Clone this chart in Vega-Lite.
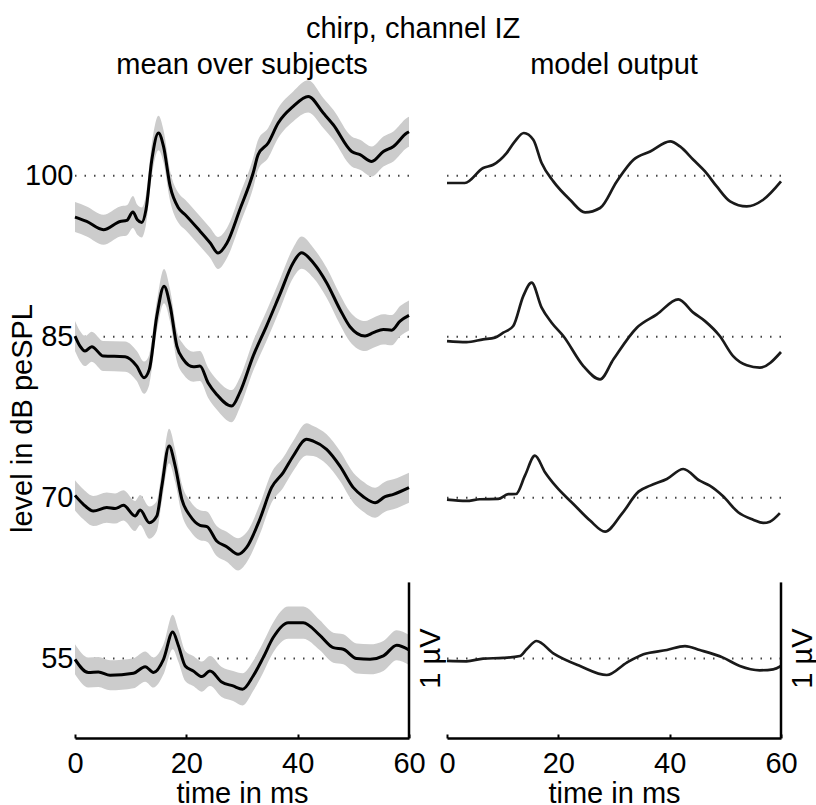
{
  "$schema": "https://vega.github.io/schema/vega-lite/v6.json",
  "background": "white",
  "padding": {"left": 8, "top": 15, "right": 0, "bottom": 0},
  "title": {"text": "chirp, channel IZ", "fontSize": 29, "fontWeight": "normal", "font": "Liberation Sans", "color": "black", "baseline": "bottom", "offset": -22, "anchor": "middle"},
  "config": {"view": {"stroke": null}, "font": "Liberation Sans", "title": {"fontSize": 29, "fontWeight": "normal", "font": "Liberation Sans", "color": "black"}},
  "spacing": 38,
  "bounds": "flush",
  "datasets": {
    "levels": [{"level": 55}, {"level": 70}, {"level": 85}, {"level": 100}],
    "bar": [{"t": 60, "y1": 47.6, "y2": 62.1}],
    "uv": [{"t": 64, "y": 55, "label": "1 µV"}],
    "mean": [
      {"level":100,"t":0,"y":96.15,"e":1.4},{"level":100,"t":2.1,"y":95.74,"e":1.4},{"level":100,"t":5.1,"y":94.97,"e":1.4},{"level":100,"t":8.1,"y":95.74,"e":1.4},{"level":100,"t":9.3,"y":95.84,"e":1.4},{"level":100,"t":10.4,"y":96.62,"e":1.5},{"level":100,"t":11.2,"y":95.9,"e":1.4},{"level":100,"t":12.0,"y":95.65,"e":1.4},{"level":100,"t":12.75,"y":96.83,"e":1.4},{"level":100,"t":13.8,"y":101.49,"e":1.5},{"level":100,"t":15.0,"y":103.98,"e":1.6},{"level":100,"t":15.9,"y":102.73,"e":1.5},{"level":100,"t":17.1,"y":99.0,"e":1.4},{"level":100,"t":18.6,"y":96.99,"e":1.4},{"level":100,"t":19.8,"y":96.37,"e":1.4},{"level":100,"t":22.5,"y":94.81,"e":1.4},{"level":100,"t":24.3,"y":93.73,"e":1.4},{"level":100,"t":25.7,"y":92.8,"e":1.5},{"level":100,"t":27.3,"y":93.73,"e":1.4},{"level":100,"t":29.6,"y":96.83,"e":1.4},{"level":100,"t":32.0,"y":100.25,"e":1.4},{"level":100,"t":32.9,"y":101.96,"e":1.4},{"level":100,"t":34.7,"y":103.05,"e":1.4},{"level":100,"t":36.5,"y":104.91,"e":1.4},{"level":100,"t":39.2,"y":106.46,"e":1.4},{"level":100,"t":41.9,"y":107.39,"e":1.5},{"level":100,"t":44.6,"y":105.84,"e":1.4},{"level":100,"t":46.4,"y":104.75,"e":1.4},{"level":100,"t":49.7,"y":102.26,"e":1.4},{"level":100,"t":51.2,"y":101.96,"e":1.4},{"level":100,"t":53.3,"y":101.33,"e":1.4},{"level":100,"t":55.4,"y":102.26,"e":1.4},{"level":100,"t":57.2,"y":102.73,"e":1.4},{"level":100,"t":59.6,"y":103.98,"e":1.4},{"level":100,"t":60,"y":104.1,"e":1.4},
      {"level":85,"t":0,"y":85.06,"e":1.4},{"level":85,"t":0.9,"y":84.12,"e":1.4},{"level":85,"t":1.8,"y":83.66,"e":1.4},{"level":85,"t":3.0,"y":84.07,"e":1.4},{"level":85,"t":5.1,"y":83.19,"e":1.4},{"level":85,"t":9.0,"y":83.14,"e":1.4},{"level":85,"t":11.1,"y":82.26,"e":1.4},{"level":85,"t":12.4,"y":81.18,"e":1.5},{"level":85,"t":13.35,"y":81.95,"e":1.4},{"level":85,"t":14.7,"y":86.92,"e":1.4},{"level":85,"t":16.0,"y":89.71,"e":1.6},{"level":85,"t":17.1,"y":87.85,"e":1.5},{"level":85,"t":18.3,"y":84.12,"e":1.4},{"level":85,"t":19.45,"y":82.89,"e":1.4},{"level":85,"t":21.25,"y":82.2,"e":1.4},{"level":85,"t":22.45,"y":82.26,"e":1.4},{"level":85,"t":23.9,"y":80.71,"e":1.4},{"level":85,"t":25.45,"y":79.62,"e":1.4},{"level":85,"t":28.15,"y":78.53,"e":1.5},{"level":85,"t":29.6,"y":79.78,"e":1.4},{"level":85,"t":32.0,"y":83.19,"e":1.4},{"level":85,"t":34.4,"y":85.99,"e":1.4},{"level":85,"t":36.8,"y":88.94,"e":1.4},{"level":85,"t":39.2,"y":91.89,"e":1.4},{"level":85,"t":40.7,"y":92.83,"e":1.5},{"level":85,"t":42.8,"y":91.89,"e":1.4},{"level":85,"t":45.2,"y":90.03,"e":1.4},{"level":85,"t":47.6,"y":87.54,"e":1.4},{"level":85,"t":49.4,"y":85.93,"e":1.4},{"level":85,"t":52.1,"y":85.06,"e":1.4},{"level":85,"t":53.6,"y":85.37,"e":1.4},{"level":85,"t":55.4,"y":85.68,"e":1.4},{"level":85,"t":56.9,"y":85.61,"e":1.4},{"level":85,"t":58.4,"y":86.45,"e":1.4},{"level":85,"t":60,"y":86.98,"e":1.4},
      {"level":70,"t":0,"y":70.21,"e":1.4},{"level":70,"t":1.5,"y":69.38,"e":1.4},{"level":70,"t":3.3,"y":68.75,"e":1.4},{"level":70,"t":5.7,"y":69.07,"e":1.4},{"level":70,"t":7.2,"y":68.98,"e":1.4},{"level":70,"t":8.7,"y":69.28,"e":1.4},{"level":70,"t":10.8,"y":68.29,"e":1.4},{"level":70,"t":11.7,"y":68.85,"e":1.4},{"level":70,"t":13.35,"y":67.67,"e":1.5},{"level":70,"t":14.7,"y":68.29,"e":1.4},{"level":70,"t":15.6,"y":71.08,"e":1.4},{"level":70,"t":16.9,"y":74.81,"e":1.6},{"level":70,"t":18.0,"y":72.94,"e":1.5},{"level":70,"t":19.2,"y":69.84,"e":1.4},{"level":70,"t":20.7,"y":68.29,"e":1.4},{"level":70,"t":22.45,"y":67.42,"e":1.4},{"level":70,"t":23.7,"y":67.3,"e":1.4},{"level":70,"t":25.45,"y":65.96,"e":1.4},{"level":70,"t":27.25,"y":65.43,"e":1.4},{"level":70,"t":29.3,"y":64.72,"e":1.5},{"level":70,"t":30.8,"y":65.34,"e":1.4},{"level":70,"t":33.2,"y":67.98,"e":1.4},{"level":70,"t":35.3,"y":70.93,"e":1.4},{"level":70,"t":37.4,"y":72.33,"e":1.4},{"level":70,"t":39.2,"y":73.88,"e":1.4},{"level":70,"t":41.6,"y":75.43,"e":1.5},{"level":70,"t":42.8,"y":75.27,"e":1.4},{"level":70,"t":45.2,"y":74.5,"e":1.4},{"level":70,"t":47.6,"y":72.94,"e":1.4},{"level":70,"t":50.0,"y":70.93,"e":1.4},{"level":70,"t":51.8,"y":70.09,"e":1.4},{"level":70,"t":53.9,"y":69.53,"e":1.4},{"level":70,"t":55.7,"y":70.09,"e":1.4},{"level":70,"t":57.2,"y":70.31,"e":1.4},{"level":70,"t":60,"y":70.93,"e":1.4},
      {"level":55,"t":0,"y":54.93,"e":1.4},{"level":55,"t":2.4,"y":53.7,"e":1.4},{"level":55,"t":4.2,"y":53.75,"e":1.4},{"level":55,"t":6.3,"y":53.44,"e":1.4},{"level":55,"t":10.5,"y":53.63,"e":1.4},{"level":55,"t":12.6,"y":54.25,"e":1.4},{"level":55,"t":14.1,"y":53.7,"e":1.4},{"level":55,"t":15.9,"y":54.93,"e":1.4},{"level":55,"t":17.55,"y":57.48,"e":1.6},{"level":55,"t":18.6,"y":56.17,"e":1.5},{"level":55,"t":19.8,"y":54.31,"e":1.4},{"level":55,"t":21.25,"y":53.84,"e":1.4},{"level":55,"t":22.8,"y":53.32,"e":1.4},{"level":55,"t":24.25,"y":53.84,"e":1.4},{"level":55,"t":26.35,"y":52.82,"e":1.4},{"level":55,"t":28.4,"y":52.45,"e":1.4},{"level":55,"t":30.1,"y":52.14,"e":1.5},{"level":55,"t":32.0,"y":53.38,"e":1.4},{"level":55,"t":33.8,"y":55.09,"e":1.4},{"level":55,"t":35.6,"y":56.96,"e":1.4},{"level":55,"t":38.3,"y":58.35,"e":1.5},{"level":55,"t":41.0,"y":58.35,"e":1.5},{"level":55,"t":44.0,"y":57.17,"e":1.4},{"level":55,"t":46.4,"y":56.02,"e":1.4},{"level":55,"t":48.2,"y":55.87,"e":1.4},{"level":55,"t":50.6,"y":55.0,"e":1.4},{"level":55,"t":53.0,"y":54.93,"e":1.4},{"level":55,"t":55.4,"y":55.25,"e":1.4},{"level":55,"t":57.8,"y":56.24,"e":1.4},{"level":55,"t":60,"y":55.8,"e":1.4}
    ],
    "model": [
      {"level":100,"t":0,"y":99.32},{"level":100,"t":3.2,"y":99.32},{"level":100,"t":6.5,"y":100.72},{"level":100,"t":8.3,"y":101.02},{"level":100,"t":10.7,"y":102.11},{"level":100,"t":12.2,"y":103.2},{"level":100,"t":13.8,"y":103.98},{"level":100,"t":15.5,"y":103.35},{"level":100,"t":17.0,"y":101.18},{"level":100,"t":19.1,"y":99.47},{"level":100,"t":22.1,"y":97.76},{"level":100,"t":24.8,"y":96.58},{"level":100,"t":27.5,"y":96.99},{"level":100,"t":30.5,"y":99.47},{"level":100,"t":33.5,"y":101.49},{"level":100,"t":36.5,"y":102.26},{"level":100,"t":40.1,"y":103.2},{"level":100,"t":41.85,"y":102.73},{"level":100,"t":44.25,"y":101.49},{"level":100,"t":46.35,"y":100.4},{"level":100,"t":48.45,"y":99.0},{"level":100,"t":50.85,"y":97.61},{"level":100,"t":53.85,"y":97.14},{"level":100,"t":56.8,"y":97.76},{"level":100,"t":60,"y":99.47},
      {"level":85,"t":0,"y":84.59},{"level":85,"t":3.5,"y":84.5},{"level":85,"t":6.5,"y":84.75},{"level":85,"t":8.6,"y":84.91},{"level":85,"t":10.1,"y":85.37},{"level":85,"t":11.9,"y":85.99},{"level":85,"t":13.7,"y":88.78},{"level":85,"t":15.2,"y":90.03},{"level":85,"t":17.0,"y":87.7},{"level":85,"t":18.8,"y":86.3},{"level":85,"t":20.9,"y":85.06},{"level":85,"t":24.5,"y":82.26},{"level":85,"t":27.5,"y":81.02},{"level":85,"t":29.9,"y":82.89},{"level":85,"t":34.1,"y":85.84},{"level":85,"t":37.7,"y":87.08},{"level":85,"t":41.55,"y":88.48},{"level":85,"t":44.25,"y":87.24},{"level":85,"t":46.35,"y":86.45},{"level":85,"t":49.0,"y":85.06},{"level":85,"t":51.4,"y":83.19},{"level":85,"t":53.85,"y":82.33},{"level":85,"t":56.2,"y":82.11},{"level":85,"t":60,"y":83.57},
      {"level":70,"t":0,"y":69.81},{"level":70,"t":3.5,"y":69.69},{"level":70,"t":5.9,"y":69.85},{"level":70,"t":9.2,"y":69.88},{"level":70,"t":11.0,"y":70.32},{"level":70,"t":12.4,"y":70.34},{"level":70,"t":14.0,"y":72.05},{"level":70,"t":15.8,"y":73.91},{"level":70,"t":17.6,"y":72.37},{"level":70,"t":19.7,"y":70.97},{"level":70,"t":22.7,"y":69.41},{"level":70,"t":25.7,"y":67.86},{"level":70,"t":28.4,"y":66.83},{"level":70,"t":31.4,"y":68.48},{"level":70,"t":34.4,"y":70.56},{"level":70,"t":36.5,"y":71.12},{"level":70,"t":39.5,"y":71.74},{"level":70,"t":42.45,"y":72.67},{"level":70,"t":45.4,"y":71.58},{"level":70,"t":47.2,"y":71.12},{"level":70,"t":49.6,"y":70.13},{"level":70,"t":52.3,"y":68.64},{"level":70,"t":55.0,"y":67.95},{"level":70,"t":56.8,"y":67.64},{"level":70,"t":58.0,"y":67.76},{"level":70,"t":59.8,"y":68.55},
      {"level":55,"t":0,"y":54.78},{"level":55,"t":3.5,"y":54.75},{"level":55,"t":6.5,"y":55.0},{"level":55,"t":10.1,"y":55.06},{"level":55,"t":13.1,"y":55.24},{"level":55,"t":14.3,"y":55.87},{"level":55,"t":16.1,"y":56.64},{"level":55,"t":19.1,"y":55.49},{"level":55,"t":23.9,"y":54.31},{"level":55,"t":28.7,"y":53.47},{"level":55,"t":32.3,"y":54.63},{"level":55,"t":35.3,"y":55.4},{"level":55,"t":39.5,"y":55.8},{"level":55,"t":42.75,"y":56.17},{"level":55,"t":45.4,"y":55.8},{"level":55,"t":49.6,"y":55.09},{"level":55,"t":52.6,"y":54.31},{"level":55,"t":56.2,"y":53.91},{"level":55,"t":58.6,"y":54.0},{"level":55,"t":60,"y":54.31}
    ]
  },
  "hconcat": [
    {
      "width": 334,
      "height": 661,
      "title": {"text": "mean over subjects", "baseline": "bottom", "offset": -32, "anchor": "middle"},
      "layer": [
        {
          "data": {"name": "levels"},
          "mark": {"type": "rule", "strokeDash": [1.5, 8], "strokeWidth": 2, "color": "#444444"},
          "encoding": {
            "y": {"field": "level", "type": "quantitative", "scale": {"domain": [47.6, 109.2], "nice": false, "zero": false},
              "axis": {"values": [55, 70, 85, 100], "labelFontSize": 29, "labelColor": "black", "ticks": false, "domain": false, "grid": false, "labelPadding": 2,
                "title": "level in dB peSPL", "titleFontSize": 29, "titleFontWeight": "normal", "titleColor": "black", "titleX": -44, "titleY": 341, "titleBaseline": "alphabetic", "titleAngle": 270, "titleAlign": "center"}}
          }
        },
        {
          "data": {"name": "mean"},
          "mark": {"type": "errorband", "interpolate": "monotone", "color": "#cccccc", "opacity": 1},
          "encoding": {
            "x": {"field": "t", "type": "quantitative", "scale": {"domain": [0, 60], "nice": false},
              "axis": {"values": [0, 20, 40, 60], "labelFontSize": 29, "labelColor": "black", "domainColor": "black", "domainWidth": 2.5, "tickColor": "black", "tickWidth": 2, "tickSize": -4, "labelPadding": 15, "grid": false, "labelFlush": false, "labelOverlap": false,
                "title": "time in ms", "titleFontSize": 29, "titleFontWeight": "normal", "titleColor": "black", "titlePadding": 1}},
            "y": {"field": "y", "type": "quantitative", "scale": {"domain": [47.6, 109.2], "nice": false, "zero": false},
              "axis": {"values": [55, 70, 85, 100], "labelFontSize": 29, "labelColor": "black", "ticks": false, "domain": false, "grid": false, "labelPadding": 2,
                "title": "level in dB peSPL", "titleFontSize": 29, "titleFontWeight": "normal", "titleColor": "black", "titleX": -44, "titleY": 341, "titleBaseline": "alphabetic", "titleAngle": 270, "titleAlign": "center"}},
            "yError": {"field": "e"},
            "detail": {"field": "level", "type": "nominal"}
          }
        },
        {
          "data": {"name": "mean"},
          "mark": {"type": "line", "interpolate": "monotone", "color": "black", "strokeWidth": 3},
          "encoding": {
            "x": {"field": "t", "type": "quantitative", "scale": {"domain": [0, 60], "nice": false},
              "axis": {"values": [0, 20, 40, 60], "labelFontSize": 29, "labelColor": "black", "domainColor": "black", "domainWidth": 2.5, "tickColor": "black", "tickWidth": 2, "tickSize": -4, "labelPadding": 15, "grid": false, "labelFlush": false, "labelOverlap": false,
                "title": "time in ms", "titleFontSize": 29, "titleFontWeight": "normal", "titleColor": "black", "titlePadding": 1}},
            "y": {"field": "y", "type": "quantitative", "scale": {"domain": [47.6, 109.2], "nice": false, "zero": false},
              "axis": {"values": [55, 70, 85, 100], "labelFontSize": 29, "labelColor": "black", "ticks": false, "domain": false, "grid": false, "labelPadding": 2,
                "title": "level in dB peSPL", "titleFontSize": 29, "titleFontWeight": "normal", "titleColor": "black", "titleX": -44, "titleY": 341, "titleBaseline": "alphabetic", "titleAngle": 270, "titleAlign": "center"}},
            "detail": {"field": "level", "type": "nominal"}
          }
        },
        {
          "data": {"name": "bar"},
          "mark": {"type": "rule", "color": "black", "strokeWidth": 2.5},
          "encoding": {
            "x": {"field": "t", "type": "quantitative",
              "axis": {"values": [0, 20, 40, 60], "labelFontSize": 29, "labelColor": "black", "domainColor": "black", "domainWidth": 2.5, "tickColor": "black", "tickWidth": 2, "tickSize": -4, "labelPadding": 15, "grid": false, "labelFlush": false, "labelOverlap": false,
                "title": "time in ms", "titleFontSize": 29, "titleFontWeight": "normal", "titleColor": "black", "titlePadding": 1}},
            "y": {"field": "y1", "type": "quantitative",
              "axis": {"values": [55, 70, 85, 100], "labelFontSize": 29, "labelColor": "black", "ticks": false, "domain": false, "grid": false, "labelPadding": 2,
                "title": "level in dB peSPL", "titleFontSize": 29, "titleFontWeight": "normal", "titleColor": "black", "titleX": -44, "titleY": 341, "titleBaseline": "alphabetic", "titleAngle": 270, "titleAlign": "center"}},
            "y2": {"field": "y2"}
          }
        },
        {
          "data": {"name": "uv"},
          "mark": {"type": "text", "angle": 270, "fontSize": 29, "align": "center", "baseline": "middle", "color": "black", "font": "Liberation Sans"},
          "encoding": {
            "x": {"field": "t", "type": "quantitative",
              "axis": {"values": [0, 20, 40, 60], "labelFontSize": 29, "labelColor": "black", "domainColor": "black", "domainWidth": 2.5, "tickColor": "black", "tickWidth": 2, "tickSize": -4, "labelPadding": 15, "grid": false, "labelFlush": false, "labelOverlap": false,
                "title": "time in ms", "titleFontSize": 29, "titleFontWeight": "normal", "titleColor": "black", "titlePadding": 1}},
            "y": {"field": "y", "type": "quantitative",
              "axis": {"values": [55, 70, 85, 100], "labelFontSize": 29, "labelColor": "black", "ticks": false, "domain": false, "grid": false, "labelPadding": 2,
                "title": "level in dB peSPL", "titleFontSize": 29, "titleFontWeight": "normal", "titleColor": "black", "titleX": -44, "titleY": 341, "titleBaseline": "alphabetic", "titleAngle": 270, "titleAlign": "center"}},
            "text": {"field": "label"}
          }
        }
      ]
    },
    {
      "width": 334,
      "height": 661,
      "title": {"text": "model output", "baseline": "bottom", "offset": -32, "anchor": "middle"},
      "layer": [
        {
          "data": {"name": "levels"},
          "mark": {"type": "rule", "strokeDash": [1.5, 8], "strokeWidth": 2, "color": "#444444"},
          "encoding": {
            "y": {"field": "level", "type": "quantitative", "scale": {"domain": [47.6, 109.2], "nice": false, "zero": false}, "axis": null}
          }
        },
        {
          "data": {"name": "model"},
          "mark": {"type": "line", "interpolate": "monotone", "color": "#1a1a1a", "strokeWidth": 2.7},
          "encoding": {
            "x": {"field": "t", "type": "quantitative", "scale": {"domain": [0, 60], "nice": false},
              "axis": {"values": [0, 20, 40, 60], "labelFontSize": 29, "labelColor": "black", "domainColor": "black", "domainWidth": 2.5, "tickColor": "black", "tickWidth": 2, "tickSize": -4, "labelPadding": 15, "grid": false, "labelFlush": false, "labelOverlap": false,
                "title": "time in ms", "titleFontSize": 29, "titleFontWeight": "normal", "titleColor": "black", "titlePadding": 1}},
            "y": {"field": "y", "type": "quantitative", "scale": {"domain": [47.6, 109.2], "nice": false, "zero": false}, "axis": null},
            "detail": {"field": "level", "type": "nominal"}
          }
        },
        {
          "data": {"name": "bar"},
          "mark": {"type": "rule", "color": "black", "strokeWidth": 2.5},
          "encoding": {
            "x": {"field": "t", "type": "quantitative",
              "axis": {"values": [0, 20, 40, 60], "labelFontSize": 29, "labelColor": "black", "domainColor": "black", "domainWidth": 2.5, "tickColor": "black", "tickWidth": 2, "tickSize": -4, "labelPadding": 15, "grid": false, "labelFlush": false, "labelOverlap": false,
                "title": "time in ms", "titleFontSize": 29, "titleFontWeight": "normal", "titleColor": "black", "titlePadding": 1}},
            "y": {"field": "y1", "type": "quantitative", "axis": null},
            "y2": {"field": "y2"}
          }
        },
        {
          "data": {"name": "uv"},
          "mark": {"type": "text", "angle": 270, "fontSize": 29, "align": "center", "baseline": "middle", "color": "black", "font": "Liberation Sans"},
          "encoding": {
            "x": {"field": "t", "type": "quantitative",
              "axis": {"values": [0, 20, 40, 60], "labelFontSize": 29, "labelColor": "black", "domainColor": "black", "domainWidth": 2.5, "tickColor": "black", "tickWidth": 2, "tickSize": -4, "labelPadding": 15, "grid": false, "labelFlush": false, "labelOverlap": false,
                "title": "time in ms", "titleFontSize": 29, "titleFontWeight": "normal", "titleColor": "black", "titlePadding": 1}},
            "y": {"field": "y", "type": "quantitative", "axis": null},
            "text": {"field": "label"}
          }
        }
      ]
    }
  ]
}
